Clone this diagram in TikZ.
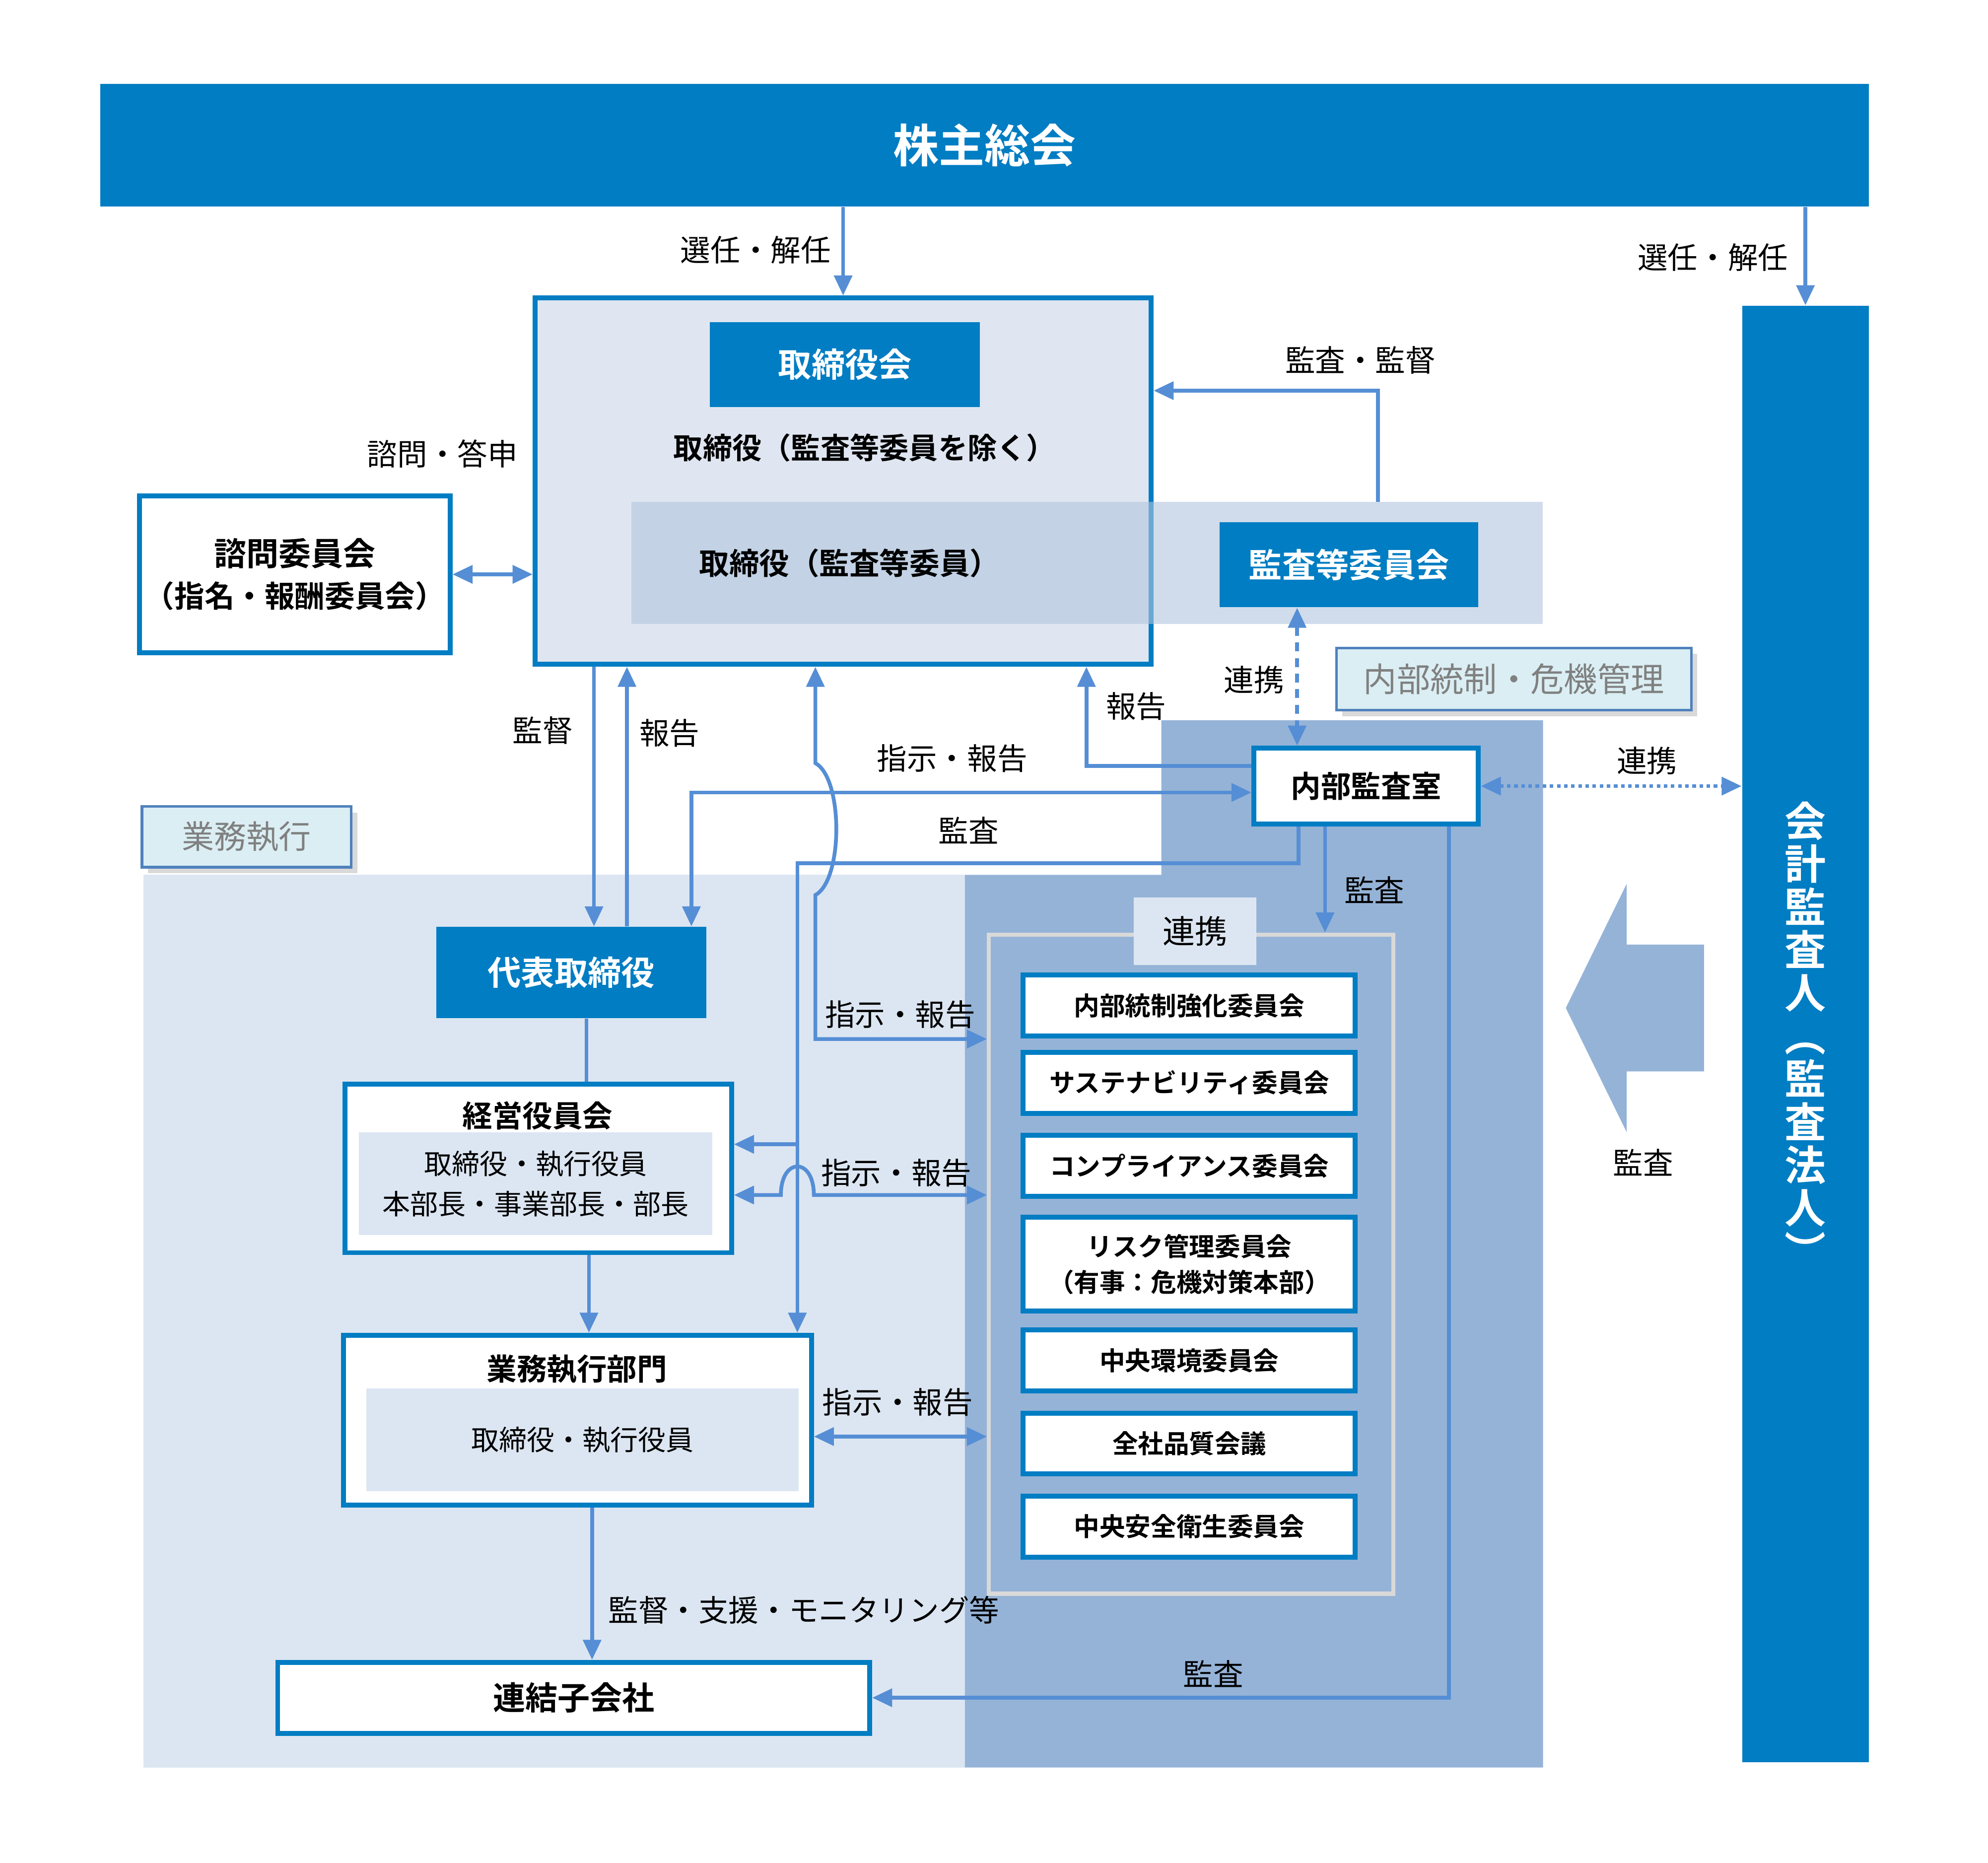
\documentclass[tikz,border=0pt]{standalone}
\usepackage{fontspec}
\setmainfont{Noto Sans CJK JP}[BoldFont={* Bold}]
\usetikzlibrary{arrows.meta,calc,shadows}

\definecolor{mainblue}{RGB}{0,125,195}
\definecolor{arrowblue}{RGB}{85,142,213}
\definecolor{boardfill}{RGB}{223,230,241}
\definecolor{bandfill}{RGB}{177,197,222}
\definecolor{auditfill}{RGB}{149,179,215}
\definecolor{execfill}{RGB}{220,230,242}
\definecolor{tagfill}{RGB}{218,238,243}
\definecolor{tagline}{RGB}{79,129,189}
\definecolor{grpline}{RGB}{217,217,217}

\newcommand{\fsz}[2]{\fontsize{#1}{#2}\selectfont}

\begin{document}
\begin{tikzpicture}[x=0.02cm, y=-0.02cm,
    solidbox/.style={fill=mainblue, text=white, inner sep=0pt, font=\fsz{15}{18}\bfseries},
    bluebox/.style={draw=mainblue, line width=2.2pt, fill=white, inner sep=0pt, align=center},
    comm/.style={bluebox, minimum width=5.24cm, minimum height=0.96cm, font=\fsz{11.5}{16}\bfseries},
    tag/.style={draw=tagline, line width=1.2pt, fill=tagfill, text=gray, inner sep=0pt, drop shadow={opacity=0.3}},
    lbl/.style={inner sep=0pt, font=\fsz{13.5}{16}},
    tlbl/.style={inner sep=0pt, font=\fsz{13.5}{16}\bfseries},
    line/.style={draw=arrowblue, line width=1.7pt},
    arr/.style={line, -{Triangle[length=9pt,width=8pt]}},
    dbl/.style={line, {Triangle[length=9pt,width=8pt]}-{Triangle[length=9pt,width=8pt]}}]

                \useasboundingbox (0,0) rectangle (1568,1469);

                \fill[execfill] (113,690) rectangle (761,1394);
                \fill[auditfill] (916,568) -- (1217,568) -- (1217,1394) -- (761,1394) -- (761,690) -- (916,690) -- cycle;
                \fill[auditfill] (1235,795) -- (1283,697) -- (1283,745) -- (1344,745) -- (1344,845) -- (1283,845) -- (1283,893) -- cycle;

                \node[fill=mainblue, text=white, minimum width=27.9cm, minimum height=1.94cm, font=\fsz{20.5}{24}\bfseries] (agm) at (776.5,114.5) {株主総会};
                \node[fill=mainblue, text=white, minimum width=2cm, minimum height=22.98cm, inner sep=0pt, align=center, font=\fsz{18.5}{19.3}\bfseries] (auditor) at (1424,815.5) {会\\計\\監\\査\\人\\︵\\監\\査\\法\\人\\︶};

                \node[draw=mainblue, line width=2.2pt, fill=boardfill, minimum width=9.72cm, minimum height=5.78cm] (board) at (665,379.5) {};
                \node[solidbox, minimum width=4.26cm, minimum height=1.34cm] (bod) at (666.5,287.5) {取締役会};
                \node[tlbl, font=\fsz{13.2}{16}\bfseries] (dirs) at (682,353) {取締役（監査等委員を除く）};
                \node[fill=bandfill, fill opacity=0.6, minimum width=14.38cm, minimum height=1.92cm] (band) at (857.5,444) {};
                \node[tlbl] (acdirs) at (670,444) {取締役（監査等委員）};
                \node[solidbox, minimum width=4.08cm, minimum height=1.34cm] (acc) at (1064,445.5) {監査等委員会};

                \node[bluebox, minimum width=4.9cm, minimum height=2.48cm, font=\fsz{13.5}{18.7}\bfseries] (advisory) at (232.5,453) {{\fsz{14.5}{18.7}諮問委員会}\\（指名・報酬委員会）};

                \node[tag, minimum width=5.6cm, minimum height=0.98cm, font=\fsz{15}{18}] (ctrl) at (1194,535.5) {内部統制・危機管理};
                \node[tag, minimum width=3.3cm, minimum height=0.96cm, font=\fsz{14.5}{18}] (exec) at (194.5,660) {業務執行};

                \node[bluebox, minimum width=3.54cm, minimum height=1.2cm, font=\fsz{13.5}{16}\bfseries] (ias) at (1077.5,620) {内部監査室};
                \node[solidbox, minimum width=4.26cm, minimum height=1.44cm] (ceo) at (450.5,767) {代表取締役};

                \node[bluebox, minimum width=6.1cm, minimum height=2.66cm] (mgmt) at (424.5,921.5) {};
                \node[fill=execfill, minimum width=5.58cm, minimum height=1.62cm, inner sep=0pt, align=center, font=\fsz{12.5}{18}] (mgmtin) at (422.5,933.5) {取締役・執行役員\\本部長・事業部長・部長};
                \node[tlbl] (mgmtttl) at (424,880) {経営役員会};

                \node[bluebox, minimum width=7.38cm, minimum height=2.68cm] (ops) at (455.5,1120) {};
                \node[fill=execfill, minimum width=6.82cm, minimum height=1.62cm, inner sep=0pt, font=\fsz{12.5}{18}] (opsin) at (459.5,1135.5) {取締役・執行役員};
                \node[tlbl] (opsttl) at (455,1080) {業務執行部門};

                \node[bluebox, minimum width=9.34cm, minimum height=1.12cm, font=\fsz{14.5}{18}\bfseries] (subs) at (452.5,1339) {連結子会社};

                \node[draw=grpline, line width=1.8pt, minimum width=6.38cm, minimum height=10.4cm] (cmte) at (939.5,997) {};
                \node[fill=execfill, minimum width=1.94cm, minimum height=1.06cm, inner sep=0pt, font=\fsz{14.5}{18}] (link) at (942.5,734.5) {連携};
                \node[comm] (c1) at (938,793) {内部統制強化委員会};
                \node[comm] (c2) at (938,854) {サステナビリティ委員会};
                \node[comm] (c3) at (938,919.5) {コンプライアンス委員会};
                \node[comm, minimum height=1.48cm] (c4) at (938,997) {リスク管理委員会\\（有事：危機対策本部）};
                \node[comm] (c5) at (938,1073) {中央環境委員会};
                \node[comm] (c6) at (938,1138.5) {全社品質会議};
                \node[comm] (c7) at (938,1204) {中央安全衛生委員会};

                \node[lbl] (l1) at (596,197) {選任・解任};
                \node[lbl] (l2) at (1351,203) {選任・解任};
                \node[lbl] (l3) at (1073,284) {監査・監督};
                \node[lbl] (l4) at (349,358) {諮問・答申};
                \node[lbl] (l5) at (989,536) {連携};
                \node[lbl] (l6) at (896,557) {報告};
                \node[lbl] (l7) at (428,576) {監督};
                \node[lbl] (l8) at (528,578) {報告};
                \node[lbl] (l9) at (751,598) {指示・報告};
                \node[lbl] (l10) at (1299,600) {連携};
                \node[lbl] (l11) at (764,655) {監査};
                \node[lbl] (l12) at (1084,702) {監査};
                \node[lbl] (l13) at (710,800) {指示・報告};
                \node[lbl] (l14) at (707,925) {指示・報告};
                \node[lbl] (l15) at (708,1106) {指示・報告};
                \node[lbl] (l16) at (634,1270) {監督・支援・モニタリング等};
                \node[lbl] (l17) at (957,1320) {監査};
                \node[lbl] (l18) at (1296,917) {監査};

                \coordinate (ks) at ($(band.north west)+(589,0)$);
                \coordinate (ke) at ($(board.north east)+(0,75)$);
                \coordinate (rk) at ($(ias.north west)+(36,0)$);
                \coordinate (r1) at ($(ias.west)+(0,-16)$);
                \coordinate (r2) at ($(board.south east)+(-53,0)$);
                \coordinate (p1) at ($(ceo.north east)+(-12,0)$);
                \coordinate (p2) at ($(ias.west)+(0,5)$);
                \coordinate (a1) at ($(ias.south west)+(37,0)$);
                \coordinate (g1) at ($(ops.north east)+(-13,0)$);
                \coordinate (k1) at ($(mgmt.east)+(0,-19)$);
                \coordinate (k2) at ($(mgmt.east)+(0,21)$);
                \coordinate (hop) at (g1 |- k2);
                \coordinate (b1) at ($(board.south west)+(223,0)$);
                \coordinate (q) at ($(cmte.north west)+(0,84)$);
                \coordinate (o1) at ($(ops.east)+(0,13)$);
                \coordinate (d1) at ($(ceo.north)+(18,0)$);
                \coordinate (d2) at ($(ceo.north)+(44,0)$);
                \coordinate (m1) at ($(ceo.south)+(12,0)$);
                \coordinate (m2) at ($(mgmt.south)+(40,0)$);
                \coordinate (m3) at ($(ops.south)+(11.5,0)$);
                \coordinate (e1) at ($(ias.south east)+(-25,0)$);
                \coordinate (f1) at ($(ias.south west)+(58,0)$);

                \draw[arr] (board.north |- agm.south) -- (board.north);
                \draw[arr] (auditor.north |- agm.south) -- (auditor.north);
                \draw[arr] (ks) |- (ke);
                \draw[dbl] (advisory.east) -- (advisory.east -| board.west);
                \draw[dbl, dash pattern=on 4pt off 3pt] (acc.south -| rk) -- (rk);
                \draw[dbl, dash pattern=on 1.6pt off 1.6pt] (ias.east) -- (ias.east -| auditor.west);
                \draw[arr] (r1) -| (r2);
                \draw[dbl] (p1) |- (p2);
                \draw[arr] (a1) -- ++(0,29) -| (g1);
                \draw[arr] (g1 |- k1) -- (k1);
                \draw[dbl] (k2) -- ($(hop)+(-13,0)$) .. controls +(0,-30) and +(0,-30) .. ($(hop)+(13,0)$) -- (k2 -| cmte.west);
                \draw[dbl] (b1) -- ++(0,76) .. controls +(22,12) and +(22,-12) .. ++(0,104) |- (q);
                \draw[dbl] (o1) -- (o1 -| cmte.west);
                \draw[arr] (board.south -| d1) -- (d1);
                \draw[arr] (d2) -- (board.south -| d2);
                \draw[line] (m1) -- (mgmt.north -| m1);
                \draw[arr] (m2) -- (ops.north -| m2);
                \draw[arr] (m3) -- (subs.north -| m3);
                \draw[arr] (e1) |- (subs.east);
                \draw[arr] (f1) -- (cmte.north -| f1);
            \end{tikzpicture}
\end{document}
